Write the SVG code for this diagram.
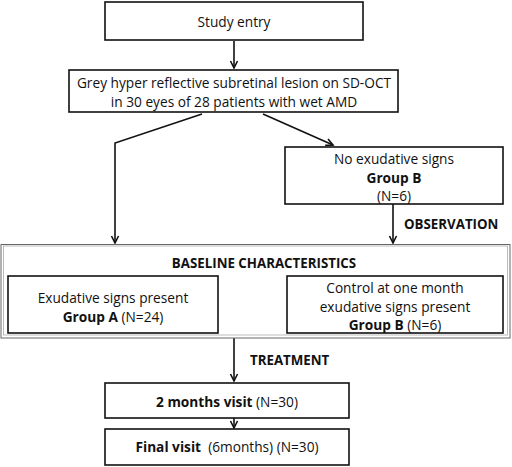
<svg xmlns="http://www.w3.org/2000/svg" width="512" height="467" viewBox="0 0 512 467">
<style>
  text { font-family: "Open Sans", "Liberation Sans", sans-serif; font-size: 13.7px; fill: #111; }
  .c { text-anchor: middle; }
  .b { font-weight: bold; }
  .lb { font-size: 13.3px; }
  .box { fill: #fff; stroke: #111; stroke-width: 1.6; }
  .ln { fill: none; stroke: #111; stroke-width: 1.6; }
</style>
<defs>
  <marker id="ah" markerWidth="10" markerHeight="10" refX="8" refY="5" orient="auto" markerUnits="userSpaceOnUse">
    <path d="M1,1.5 L8,5 L1,8.5" fill="none" stroke="#111" stroke-width="1.6"/>
  </marker>
</defs>
<rect width="512" height="467" fill="#fff"/>
<g id="connectors">
  <line class="ln" x1="234" y1="41" x2="234" y2="68" marker-end="url(#ah)"/>
  <polyline class="ln" points="202,114 115,143 115,243" marker-end="url(#ah)"/>
  <line class="ln" x1="263" y1="114" x2="333" y2="145" marker-end="url(#ah)"/>
  <line class="ln" x1="393" y1="204" x2="393" y2="243" marker-end="url(#ah)"/>
  <line class="ln" x1="234" y1="338" x2="234" y2="381" marker-end="url(#ah)"/>
  <line class="ln" x1="234" y1="418" x2="234" y2="428" marker-end="url(#ah)"/>
  <text x="404" y="229" class="b lb">OBSERVATION</text>
  <text x="250" y="365" class="b lb">TREATMENT</text>
</g>
<g id="study-entry">
  <rect class="box" x="105" y="2" width="258" height="38"/>
  <text x="234" y="27" class="c">Study entry</text>
</g>
<g id="lesion">
  <rect class="box" x="69" y="70" width="329" height="42"/>
  <text x="234" y="88" class="c">Grey hyper reflective subretinal lesion on SD-OCT</text>
  <text x="234" y="107" class="c">in 30 eyes of 28 patients with wet AMD</text>
</g>
<g id="no-exudative">
  <rect class="box" x="285" y="147" width="218" height="57"/>
  <text x="394" y="164" class="c">No exudative signs</text>
  <text x="394" y="183" class="c b">Group B</text>
  <text x="394" y="201" class="c">(N=6)</text>
</g>
<g id="baseline">
  <rect x="1" y="244.5" width="509" height="93.5" fill="none" stroke="#666" stroke-width="1"/>
  <rect x="3.5" y="246" width="504" height="89" fill="none" stroke="#aaa" stroke-width="0.8"/>
  <text x="264" y="268" class="c b lb">BASELINE CHARACTERISTICS</text>
</g>
<g id="group-a">
  <rect class="box" x="8" y="276" width="210" height="57"/>
  <text x="113" y="303" class="c">Exudative signs present</text>
  <text x="113" y="322" class="c"><tspan class="b">Group A</tspan> (N=24)</text>
</g>
<g id="group-b">
  <rect class="box" x="287" y="276" width="216" height="57"/>
  <text x="395" y="293" class="c">Control at one month</text>
  <text x="395" y="312" class="c">exudative signs present</text>
  <text x="395" y="330" class="c"><tspan class="b">Group B</tspan> (N=6)</text>
</g>
<g id="two-months">
  <rect class="box" x="105" y="383" width="244" height="35"/>
  <text x="227" y="407" class="c"><tspan class="b">2 months visit</tspan> (N=30)</text>
</g>
<g id="final-visit">
  <rect class="box" x="105" y="429" width="244" height="36"/>
  <text x="227" y="452" class="c" xml:space="preserve"><tspan class="b">Final visit</tspan>  (6months) (N=30)</text>
</g>
</svg>
